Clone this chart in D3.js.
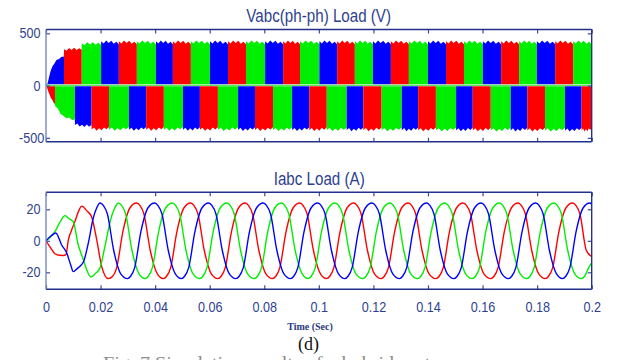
<!DOCTYPE html>
<html>
<head>
<meta charset="utf-8">
<title>Vabc / Iabc Load</title>
<script src="https://cdn.jsdelivr.net/npm/d3@7/dist/d3.min.js"></script>
<style>
  html, body { margin: 0; padding: 0; background: #fff; }
  svg { display: block; }
</style>
</head>
<body>
<div id="chart"></div>
<script>
// time axis (s)
const timeTicks = [0, 0.02, 0.04, 0.06, 0.08, 0.1, 0.12, 0.14, 0.16, 0.18, 0.2];
const timeTickLabels = ['0', '0.02', '0.04', '0.06', '0.08', '0.1', '0.12', '0.14', '0.16', '0.18', '0.2'];
const voltTicks = [500, 0, -500];
const currTicks = [20, 0, -20];

// line voltages: start time of each PWM block above zero (phases cycle b, r, g)
const vPosStart = [0, 0.0066, 0.0131, 0.0202, 0.0267, 0.0333, 0.0403, 0.0465, 0.0531, 0.0601,
  0.0667, 0.0733, 0.0803, 0.0869, 0.0931, 0.1002, 0.1067, 0.1132, 0.1198, 0.1264,
  0.1330, 0.1400, 0.1466, 0.1532, 0.1601, 0.1668, 0.1734, 0.1799, 0.1866, 0.1932];
const vPosOrder = ['b', 'r', 'g'];
// ... and below zero (phases cycle r, g, b)
const vNegStart = [0, 0.0033, 0.0106, 0.0167, 0.0231, 0.0304, 0.0367, 0.0432, 0.0502, 0.0564,
  0.0630, 0.0704, 0.0766, 0.0832, 0.0902, 0.0965, 0.1029, 0.1102, 0.1163, 0.1230,
  0.1304, 0.1364, 0.1429, 0.1503, 0.1564, 0.1630, 0.1703, 0.1764, 0.1829, 0.1902, 0.1963];
const vNegOrder = ['r', 'g', 'b'];

// DC-link build-up: envelope of the blocks (V)
const envTopT = [0, 0.0004, 0.0015, 0.0026, 0.0044, 0.0065, 0.0066, 0.0130, 0.0131, 0.0201, 0.0202, 0.2];
const envTopV = [0, 5, 115, 185, 240, 270, 320, 335, 372, 382, 390, 390];
const envBotT = [0, 0.0003, 0.0015, 0.0027, 0.0033, 0.0034, 0.0063, 0.0105, 0.0106, 0.0166, 0.0167, 0.2];
const envBotV = [0, 15, 95, 150, 175, 185, 275, 320, 350, 372, 392, 400];
// saw-tooth on the edge of one block (V beyond envelope)
const rippleTop = [36, 14, 44, 18, 40, 12, 30, 6];
const rippleBot = [30, 10, 40, 16, 36, 8, 26, 4];

// load currents [t, A]
const iRed = [[0, 0], [0.0015, -4], [0.0033, -8.2], [0.0050, -9.2], [0.0063, -9.3], [0.0073, -8.8], [0.0082, 0.6],
  [0.0094, 6.9], [0.0106, 12.2], [0.0120, 19], [0.0131, 22], [0.0150, 19], [0.0167, 15.3], [0.0186, 0.6],
  [0.0204, -16.2], [0.0228, -24], [0.0244, -22.5], [0.0259, -17], [0.0282, 6], [0.0308, 21],
  [0.0332, 24], [0.0344, 22.5], [0.0359, 17], [0.0382, -6], [0.0408, -21], [0.0430, -24], [0.0442, -22.5], [0.0457, -17], [0.0480, 6], [0.0506, 21],
  [0.0530, 24], [0.0542, 22.5], [0.0557, 17], [0.0580, -6], [0.0606, -21], [0.0630, -24], [0.0642, -22.5], [0.0657, -17], [0.0680, 6], [0.0706, 21],
  [0.0730, 24], [0.0742, 22.5], [0.0757, 17], [0.0780, -6], [0.0806, -21], [0.0830, -24], [0.0842, -22.5], [0.0857, -17], [0.0880, 6], [0.0906, 21],
  [0.0930, 24], [0.0942, 22.5], [0.0957, 17], [0.0980, -6], [0.1006, -21], [0.1028, -24], [0.1040, -22.5], [0.1055, -17], [0.1078, 6], [0.1104, 21],
  [0.1128, 24], [0.1140, 22.5], [0.1155, 17], [0.1178, -6], [0.1204, -21], [0.1228, -24], [0.1240, -22.5], [0.1255, -17], [0.1278, 6], [0.1304, 21],
  [0.1328, 24], [0.1340, 22.5], [0.1355, 17], [0.1378, -6], [0.1404, -21], [0.1429, -24], [0.1441, -22.5], [0.1456, -17], [0.1479, 6], [0.1505, 21],
  [0.1529, 24], [0.1541, 22.5], [0.1556, 17], [0.1579, -6], [0.1605, -21], [0.1630, -24], [0.1642, -22.5], [0.1657, -17], [0.1680, 6], [0.1706, 21],
  [0.1730, 24], [0.1742, 22.5], [0.1757, 17], [0.1780, -6], [0.1806, -21], [0.1830, -24], [0.1842, -22.5], [0.1857, -17], [0.1880, 6], [0.1906, 21],
  [0.1930, 24], [0.1942, 22.5], [0.1957, 17], [0.1980, -6], [0.2, -10]];
const iGreen = [[0, 0], [0.0020, 3], [0.0035, 6.5], [0.0050, 11.5], [0.0070, 16], [0.0085, 14], [0.0100, 12.2],
  [0.0118, -2.5], [0.0135, -11], [0.0149, -18.3], [0.0165, -23], [0.0180, -21], [0.0198, -17.2], [0.0216, -3.6],
  [0.0235, 12.2], [0.0250, 20],
  [0.0265, 24], [0.0277, 22.5], [0.0292, 17], [0.0315, -6], [0.0341, -21], [0.0363, -24], [0.0375, -22.5], [0.0390, -17], [0.0413, 6], [0.0439, 21],
  [0.0463, 24], [0.0475, 22.5], [0.0490, 17], [0.0513, -6], [0.0539, -21], [0.0563, -24], [0.0575, -22.5], [0.0590, -17], [0.0613, 6], [0.0639, 21],
  [0.0663, 24], [0.0675, 22.5], [0.0690, 17], [0.0713, -6], [0.0739, -21], [0.0763, -24], [0.0775, -22.5], [0.0790, -17], [0.0813, 6], [0.0839, 21],
  [0.0863, 24], [0.0875, 22.5], [0.0890, 17], [0.0913, -6], [0.0939, -21], [0.0960, -24], [0.0972, -22.5], [0.0987, -17], [0.1010, 6], [0.1036, 21],
  [0.1060, 24], [0.1072, 22.5], [0.1087, 17], [0.1110, -6], [0.1136, -21], [0.1161, -24], [0.1173, -22.5], [0.1188, -17], [0.1211, 6], [0.1237, 21],
  [0.1261, 24], [0.1273, 22.5], [0.1288, 17], [0.1311, -6], [0.1337, -21], [0.1362, -24], [0.1374, -22.5], [0.1389, -17], [0.1412, 6], [0.1438, 21],
  [0.1462, 24], [0.1474, 22.5], [0.1489, 17], [0.1512, -6], [0.1538, -21], [0.1562, -24], [0.1574, -22.5], [0.1589, -17], [0.1612, 6], [0.1638, 21],
  [0.1662, 24], [0.1674, 22.5], [0.1689, 17], [0.1712, -6], [0.1738, -21], [0.1762, -24], [0.1774, -22.5], [0.1789, -17], [0.1812, 6], [0.1838, 21],
  [0.1862, 24], [0.1874, 22.5], [0.1889, 17], [0.1912, -6], [0.1938, -21], [0.1962, -24], [0.1974, -22.5], [0.1989, -17], [0.2, -14]];
const iBlue = [[0, 0], [0.0018, 3], [0.0036, 5], [0.0057, -2.5], [0.0076, -7.8], [0.0090, -15], [0.0100, -19.6],
  [0.0115, -17.5], [0.0137, -13.5], [0.0155, -1.5], [0.0173, 14.3], [0.0186, 21],
  [0.0198, 24], [0.0210, 22.5], [0.0225, 17], [0.0248, -6], [0.0274, -21], [0.0298, -24], [0.0310, -22.5], [0.0325, -17], [0.0348, 6], [0.0374, 21],
  [0.0398, 24], [0.0410, 22.5], [0.0425, 17], [0.0448, -6], [0.0474, -21], [0.0496, -24], [0.0508, -22.5], [0.0523, -17], [0.0546, 6], [0.0572, 21],
  [0.0596, 24], [0.0608, 22.5], [0.0623, 17], [0.0646, -6], [0.0672, -21], [0.0696, -24], [0.0708, -22.5], [0.0723, -17], [0.0746, 6], [0.0772, 21],
  [0.0796, 24], [0.0808, 22.5], [0.0823, 17], [0.0846, -6], [0.0872, -21], [0.0896, -24], [0.0908, -22.5], [0.0923, -17], [0.0946, 6], [0.0972, 21],
  [0.0996, 24], [0.1008, 22.5], [0.1023, 17], [0.1046, -6], [0.1072, -21], [0.1095, -24], [0.1107, -22.5], [0.1122, -17], [0.1145, 6], [0.1171, 21],
  [0.1195, 24], [0.1207, 22.5], [0.1222, 17], [0.1245, -6], [0.1271, -21], [0.1295, -24], [0.1307, -22.5], [0.1322, -17], [0.1345, 6], [0.1371, 21],
  [0.1395, 24], [0.1407, 22.5], [0.1422, 17], [0.1445, -6], [0.1471, -21], [0.1495, -24], [0.1507, -22.5], [0.1522, -17], [0.1545, 6], [0.1571, 21],
  [0.1595, 24], [0.1607, 22.5], [0.1622, 17], [0.1645, -6], [0.1671, -21], [0.1695, -24], [0.1707, -22.5], [0.1722, -17], [0.1745, 6], [0.1771, 21],
  [0.1795, 24], [0.1807, 22.5], [0.1822, 17], [0.1845, -6], [0.1871, -21], [0.1893, -24], [0.1905, -22.5], [0.1920, -17], [0.1943, 6], [0.1969, 21],
  [0.1993, 24], [0.2, 23.2]];

const width = 618;
const height = 360;
const left = 46;
const right = 591.7;
const navy = '#23318a';
const textBlue = '#2e3f8f';
const sans = '"Liberation Sans", Arial, sans-serif';
const serif = '"Liberation Serif", "Times New Roman", serif';
const phaseColor = {r: '#ff0000', g: '#00ee00', b: '#0000ff'};

const svg = d3.select('#chart').append('svg')
  .attr('width', width)
  .attr('height', height);

const x = d3.scaleLinear().domain([0, 0.2]).range([left, right]);
const yV = d3.scaleLinear().domain([-537, 537]).range([141.7, 29.5]);
const yI = d3.scaleLinear().domain([-30.8, 30.8]).range([289.3, 192.3]);

function addClip(id, y) {
  svg.append('clipPath').attr('id', id)
    .append('rect')
    .attr('x', left).attr('y', y.range()[1])
    .attr('width', right - left).attr('height', y.range()[0] - y.range()[1]);
}

// one filled PWM block per entry, top edge follows envelope + saw-tooth
function drawBlocks(g, starts, order, envT, envV, ripple, sign, base) {
  const env = d3.scaleLinear().domain(envT).range(envV).clamp(true);
  const rip = d3.scaleLinear().domain(ripple.map((r, k) => k / (ripple.length - 1))).range(ripple);
  const area = d3.area()
    .x(d => x(d.t))
    .y0(yV(sign * base))
    .y1(d => yV(d.v));

  starts.forEach((t0, i) => {
    const t1 = i + 1 < starts.length ? starts[i + 1] : 0.2;
    const ts = ripple.map((r, k) => t0 + (t1 - t0) * k / (ripple.length - 1))
      .concat(envT.filter(t => t > t0 && t < t1))
      .sort((a, b) => a - b);
    const pts = ts.map(t => {
      const e = env(Math.min(t, t1 - 1e-6));
      return {t: t, v: sign * (e + rip((t - t0) / (t1 - t0)) * e / 400)};
    });
    g.append('path')
      .datum(pts)
      .attr('d', area)
      .attr('fill', phaseColor[order[i % order.length]]);
  });
}

function drawAxes(y, ticks, withTimeLabels) {
  const [yBottom, yTop] = y.range();
  const g = svg.append('g');

  g.append('g').attr('transform', `translate(0,${yTop})`)
    .call(d3.axisTop(x).tickValues(timeTicks).tickSize(-4).tickFormat(() => ''));
  g.append('g').attr('transform', `translate(0,${yBottom})`)
    .call(d3.axisBottom(x).tickValues(timeTicks).tickSize(-4).tickPadding(13)
      .tickFormat((d, i) => withTimeLabels ? timeTickLabels[i] : ''));
  g.append('g').attr('transform', `translate(${left},0)`)
    .call(d3.axisLeft(y).tickValues(ticks).tickSize(-4).tickPadding(6).tickFormat(d => String(d)));
  g.append('g').attr('transform', `translate(${right},0)`)
    .call(d3.axisRight(y).tickValues(ticks).tickSize(-4).tickFormat(() => ''));

  g.selectAll('.domain').remove();
  g.selectAll('.tick line').attr('stroke', '#3c4c9e').attr('stroke-width', 1.2);
  g.selectAll('.tick text')
    .attr('fill', textBlue)
    .style('font-family', sans)
    .style('font-size', '14px')
    .attr('transform', 'scale(0.9,1)');

  // frame, left side is drawn lighter in the original
  const frame = [[left, yTop, right, yTop], [left, yBottom, right, yBottom], [right, yTop, right, yBottom]];
  frame.forEach(s => g.append('line')
    .attr('x1', s[0]).attr('y1', s[1]).attr('x2', s[2]).attr('y2', s[3])
    .attr('stroke', navy).attr('stroke-width', 1.4));
  g.append('line')
    .attr('x1', left).attr('y1', yTop).attr('x2', left).attr('y2', yBottom)
    .attr('stroke', '#7886bf').attr('stroke-width', 1.4);
  return g;
}

function addTitle(text, cx, baseline) {
  svg.append('text')
    .attr('transform', `translate(${cx},${baseline}) scale(0.82,1)`)
    .attr('text-anchor', 'middle')
    .attr('fill', textBlue)
    .style('font-family', sans)
    .style('font-size', '18.5px')
    .text(text);
}

// --- voltage panel
addClip('clipV', yV);
const vg = svg.append('g').attr('clip-path', 'url(#clipV)');
drawBlocks(vg, vPosStart, vPosOrder, envTopT, envTopV, rippleTop, 1, 12);
drawBlocks(vg, vNegStart, vNegOrder, envBotT, envBotV, rippleBot, -1, 6);
vg.append('line')
  .attr('x1', x(0)).attr('x2', x(0.2))
  .attr('y1', yV(3)).attr('y2', yV(3))
  .attr('stroke', '#33dd33').attr('stroke-width', 1);

const vAxes = drawAxes(yV, voltTicks, false);
vAxes.selectAll('.tick text').filter(d => d === -500).attr('x', -2);
addTitle('Vabc(ph-ph) Load (V)', 318.7, 21.8);

// --- current panel
addClip('clipI', yI);
const ig = svg.append('g').attr('clip-path', 'url(#clipI)');
const line = d3.line()
  .x(d => x(d[0]))
  .y(d => yI(d[1]))
  .curve(d3.curveMonotoneX);
[[iRed, 'r'], [iGreen, 'g'], [iBlue, 'b']].forEach(([data, c]) => {
  ig.append('path')
    .datum(data)
    .attr('d', line)
    .attr('fill', 'none')
    .attr('stroke', phaseColor[c])
    .attr('stroke-width', 1.4);
});

drawAxes(yI, currTicks, true);
addTitle('Iabc Load (A)', 319.2, 185);

// captions
svg.append('text')
  .attr('x', 310).attr('y', 329.5)
  .attr('text-anchor', 'middle')
  .attr('fill', '#2b3a7c')
  .style('font-family', serif)
  .style('font-size', '10px')
  .style('font-weight', 'bold')
  .text('Time (Sec)');
svg.append('text')
  .attr('x', 308.5).attr('y', 350)
  .attr('text-anchor', 'middle')
  .attr('fill', '#111')
  .style('font-family', serif)
  .style('font-size', '18px')
  .text('(d)');
svg.append('text')
  .attr('x', 103).attr('y', 368)
  .attr('fill', '#8a8a8a')
  .attr('textLength', 352)
  .attr('lengthAdjust', 'spacingAndGlyphs')
  .style('font-family', serif)
  .style('font-size', '17px')
  .text('Fig. 7 Simulation results of a hybrid system');
</script>
</body>
</html>
